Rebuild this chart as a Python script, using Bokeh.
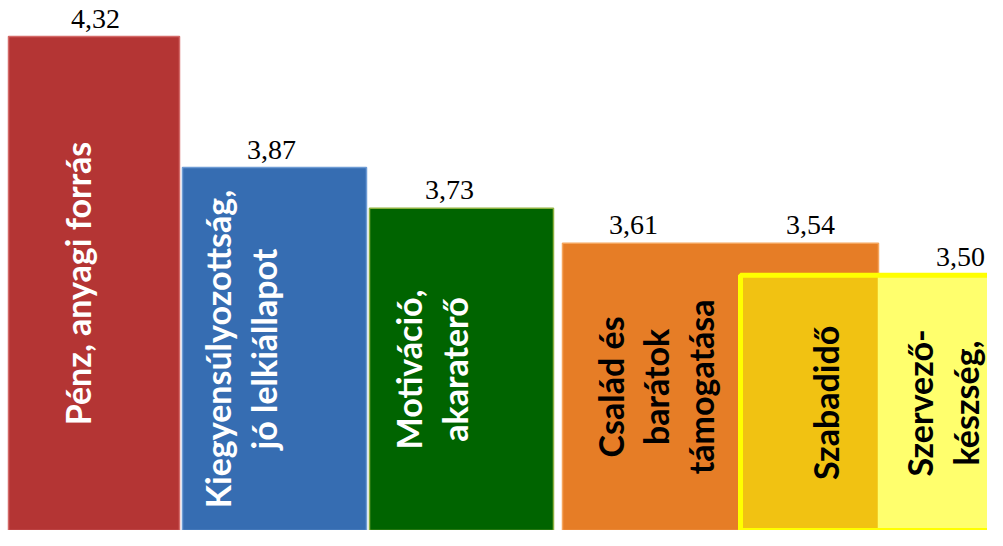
import math
from bokeh.plotting import figure
from bokeh.models import Range1d, ColumnDataSource
from bokeh.core.properties import value
from bokeh.embed import file_html
from bokeh.resources import INLINE

# ---- data ----
categories = [
    "Pénz, anyagi forrás",
    "Kiegyensúlyozottság,\njó lelkiállapot",
    "Motiváció,\nakaraterő",
    "Család és\nbarátok\ntámogatása",
    "Szabadidő",
    "Szervező-\nkészség,",
]
values = [4.32, 3.87, 3.73, 3.61, 3.54, 3.50]
value_labels = ["4,32", "3,87", "3,73", "3,61", "3,54", "3,50"]

# ---- layout / style ----
W, H = 987, 530
Y0, Y1 = 2.624, 4.4436
PPU = H / (Y1 - Y0)          # pixels per value unit
left = [8, 182, 369, 562, 740, 878]
right = [179, 366, 553, 878, 878, 1020]
fills = ["#b43534", "#366db2", "#006400", "#e67d26", "#f1c212", "#ffff6d"]
edges = ["#d46a68", "#6d9bd4", "#8db13f", "#f5a55c", "#f1c212", "#ffff6d"]
text_colors = ["white", "white", "white", "black", "black", "black"]
cat_x = [77, 240, 431, 655, 825, 942]
val_x = [95, 271, 449, 633, 810, 960]
# which bar top each value label sits on (Szabadidő label shares the orange bar's top)
val_ref = [0, 1, 2, 3, 3, 5]
# Szabadidő fill lies inside the yellow frame drawn at Szervező's value
bar_top = list(values)
bar_top[4] = values[5]

p = figure(width=W, height=H, x_range=Range1d(0, W), y_range=Range1d(Y0, Y1),
           output_backend="svg", toolbar_location=None, min_border=0,
           background_fill_color="white", border_fill_color="white")
p.axis.visible = False
p.xgrid.visible = False
p.ygrid.visible = False
p.outline_line_color = None

src = ColumnDataSource(dict(left=left, right=right, top=bar_top, bottom=[Y0] * 6,
                            fill=fills, edge=edges))
p.quad(left="left", right="right", top="top", bottom="bottom", source=src,
       fill_color="fill", line_color="edge", line_width=1.5)

# yellow frame around Szabadidő + Szervező-készség
p.quad(left=[left[4]], right=[right[5]], top=[values[5]], bottom=[Y0],
       fill_color=None, line_color="#ffff00", line_width=5)

# category labels (rotated)
cat_y = [(t + Y0) / 2 for t in bar_top]
p.text(x=cat_x, y=cat_y, text=categories, angle=math.pi / 2,
       text_align="center", text_baseline="middle",
       text_font=value("Lato"), text_font_style="bold", text_font_size="34px",
       text_color=text_colors, text_line_height=1.1)

# value labels, digits centred 18px above the bar top
val_y = [bar_top[i] + 18 / PPU for i in val_ref]
p.text(x=val_x, y=val_y, text=value_labels, text_align="center",
       text_baseline="middle",
       text_font=value("Liberation Serif"), text_font_size="28px", text_color="black")

open("out.html", "w").write(file_html(p, INLINE))
